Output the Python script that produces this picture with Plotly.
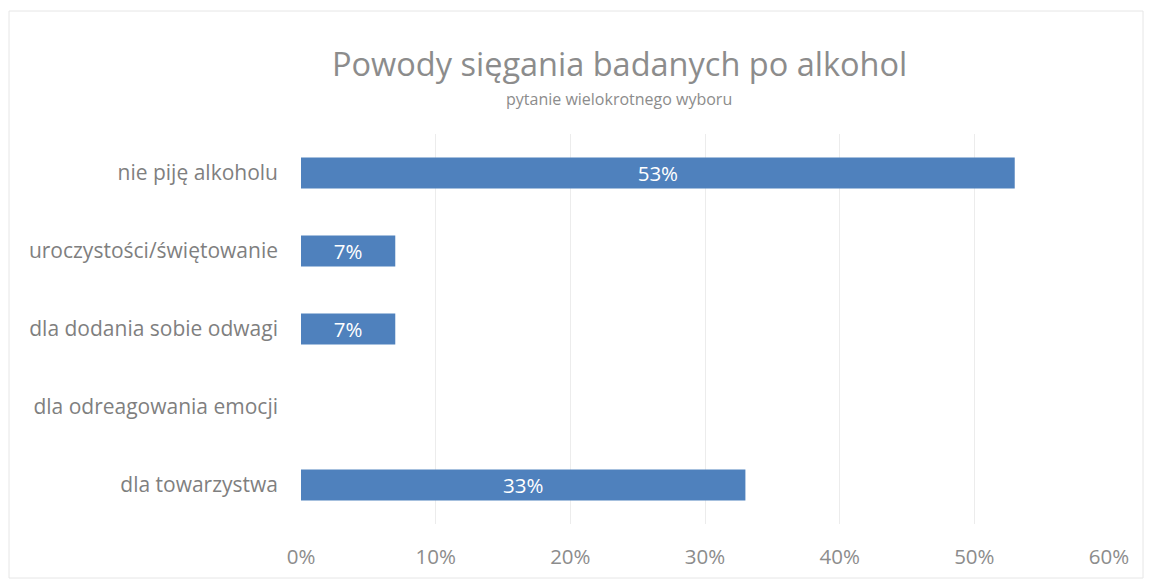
import plotly.graph_objects as go

categories = ["dla towarzystwa", "dla odreagowania emocji", "dla dodania sobie odwagi",
              "uroczystości/świętowanie", "nie piję alkoholu"]
values = [0.33, 0.0, 0.07, 0.07, 0.53]
tick_vals = [0, 0.1, 0.2, 0.3, 0.4, 0.5, 0.6]
tick_text = ["0%", "10%", "20%", "30%", "40%", "50%", "60%"]

labels = [f"{v*100:.0f}%" if v > 0 else "" for v in values]

FONT = "Open Sans"
OFF = 8  # page body margin
L, R, T, B = 301 - OFF, 1109 - OFF, 134 - OFF, 524 - OFF
W, H = 1153 - OFF, 581 - OFF
def px(x): return (x - OFF - L) / (R - L)
def py(y): return (B - (y - OFF)) / (B - T)

fig = go.Figure(go.Bar(
    x=values, y=categories, orientation="h",
    marker=dict(color="#4F81BD", line=dict(width=0)),
    width=0.4,
    text=labels, textposition="inside", insidetextanchor="middle",
    constraintext="none",
    textfont=dict(color="white", size=20.5, family=FONT),
))

fig.update_layout(
    width=W, height=H,
    margin=dict(l=L, r=W - R, t=T, b=H - B),
    plot_bgcolor="white", paper_bgcolor="white",
    showlegend=False,
    font=dict(family=FONT, color="#7f7f7f"),
    xaxis=dict(range=[0, 0.6], tickvals=tick_vals, ticktext=tick_text,
               showgrid=True, gridcolor="#ececec", gridwidth=1,
               zeroline=False, showline=False, ticks="",
               tickfont=dict(size=20.5, color="#8c8c8c"), ticklabelstandoff=18),
    yaxis=dict(showgrid=False, zeroline=False, showline=False, ticks="",
               tickfont=dict(size=21, color="#7f7f7f"), ticklabelstandoff=22),
    annotations=[
        dict(text="Powody sięgania badanych po alkohol", x=px(619), y=py(64),
             xref="paper", yref="paper", showarrow=False, xanchor="center", yanchor="middle",
             font=dict(size=32.5, color="#8c8c8c", family=FONT)),
        dict(text="pytanie wielokrotnego wyboru", x=px(619), y=py(99),
             xref="paper", yref="paper", showarrow=False, xanchor="center", yanchor="middle",
             font=dict(size=16, color="#8c8c8c", family=FONT)),
    ],
    shapes=[dict(type="rect", xref="paper", yref="paper",
                 x0=px(9), x1=px(1143), y0=py(578), y1=py(11),
                 line=dict(color="#e6e6e6", width=1), layer="below")],
)

fig.write_html("out.html")
